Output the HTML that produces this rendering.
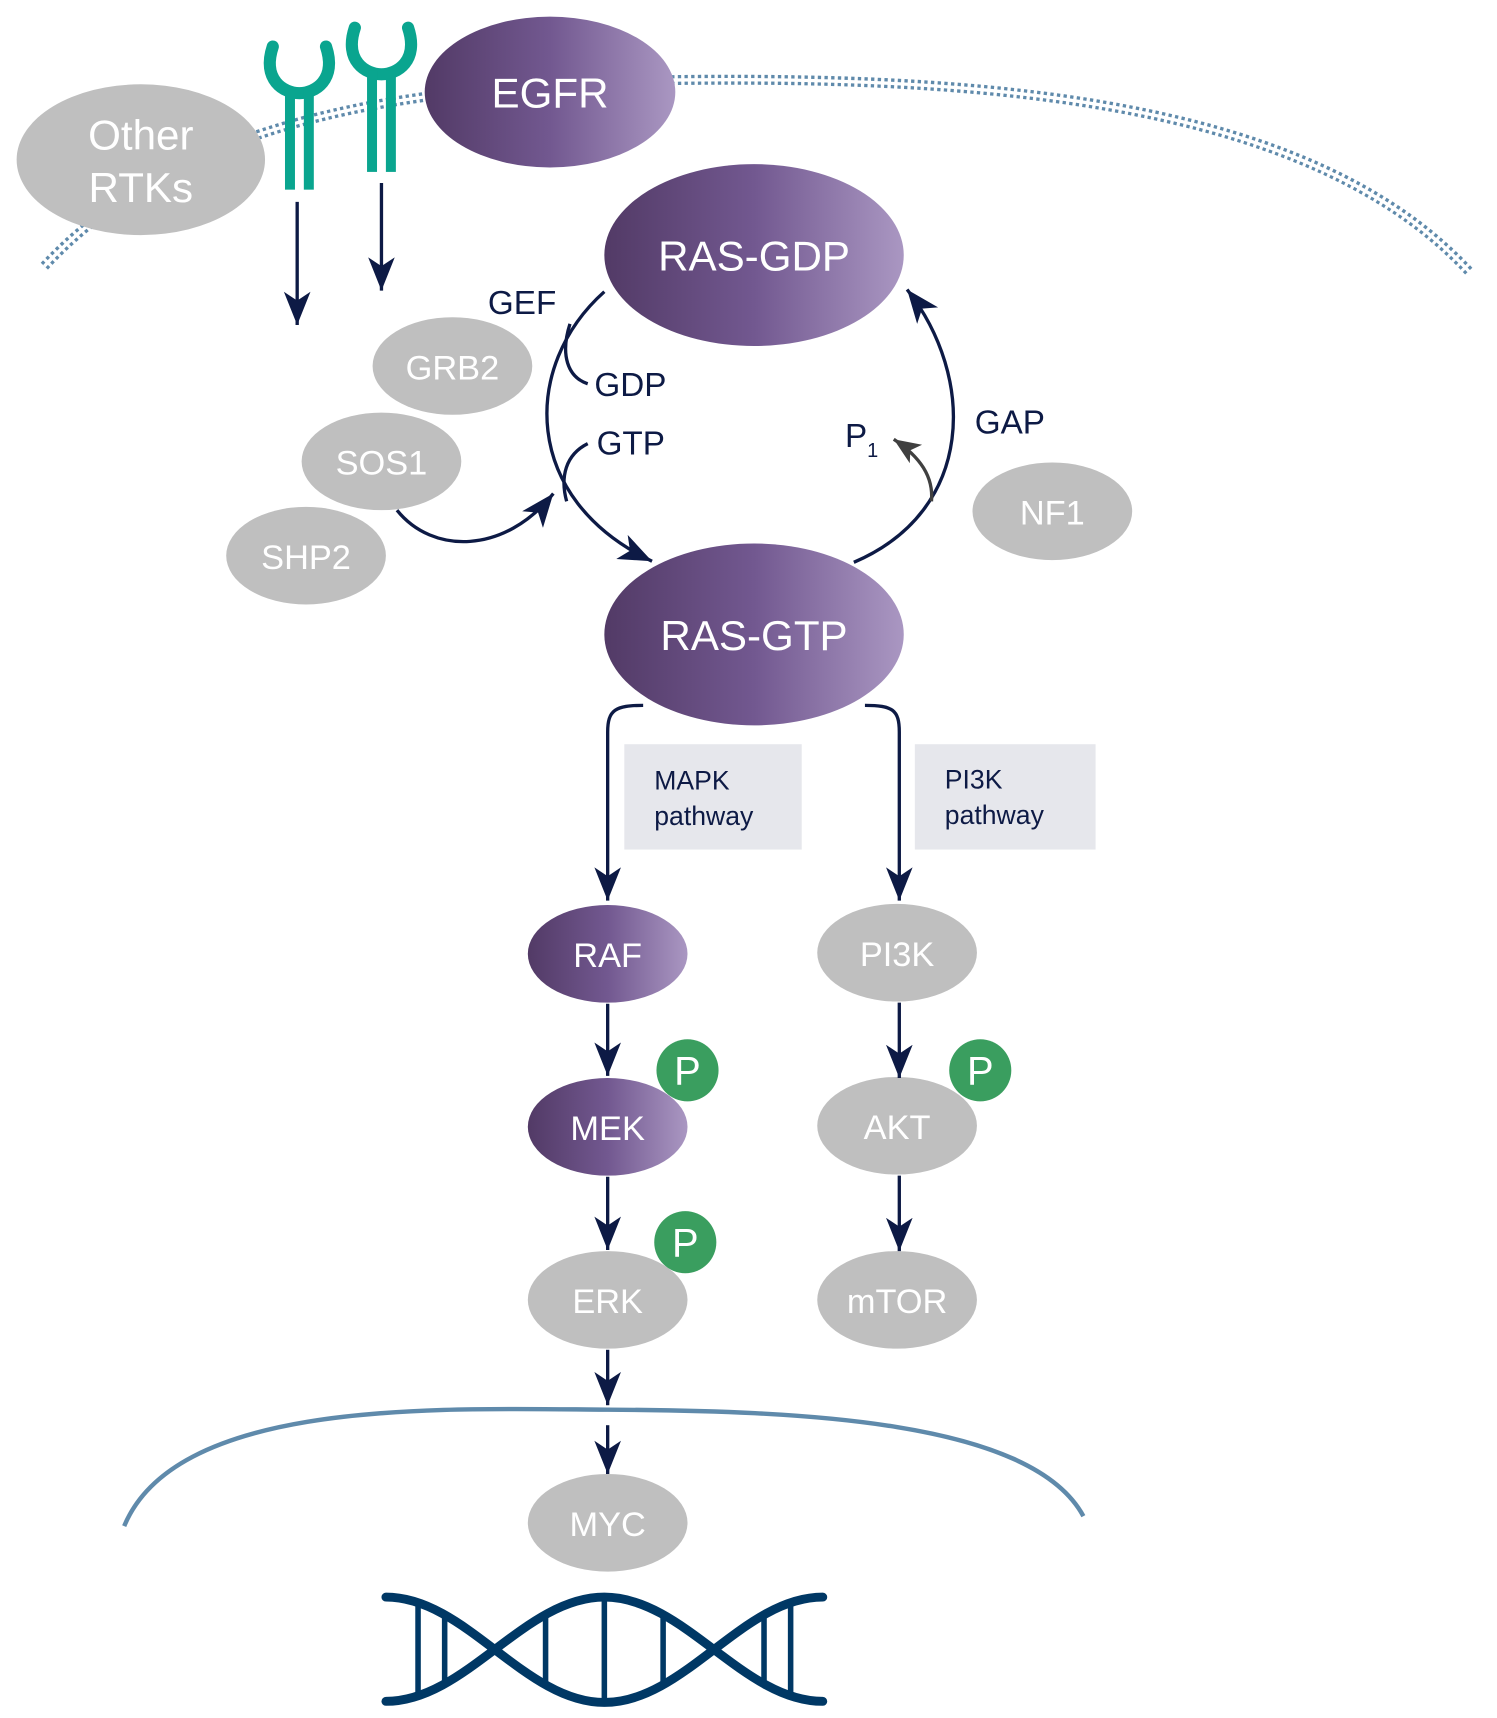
<!DOCTYPE html>
<html><head><meta charset="utf-8"><style>
html,body{margin:0;padding:0;background:#fff}
svg{display:block}
text{font-family:"Liberation Sans",sans-serif}
</style></head><body>
<svg width="1497" height="1718" viewBox="0 0 1350 1549" preserveAspectRatio="none" xmlns="http://www.w3.org/2000/svg">
<defs>
<linearGradient id="pg" x1="0" x2="1" y1="0" y2="0">
<stop offset="0" stop-color="#523a66"/><stop offset="0.5" stop-color="#725890"/><stop offset="1" stop-color="#aa97c2"/>
</linearGradient>
<marker id="ah" markerUnits="userSpaceOnUse" markerWidth="40" markerHeight="40" refX="30" refY="12" orient="auto">
<path d="M0,0 L30,12 L0,24 L8,12 z" fill="#0d1a45"/>
</marker>
<marker id="ahg" markerUnits="userSpaceOnUse" markerWidth="30" markerHeight="30" refX="24" refY="10" orient="auto">
<path d="M0,0 L24,10 L0,20 L6,10 z" fill="#404040"/>
</marker>
</defs>

<g fill="none">
<path d="M40,240 C180,90 420,70 690,72 C960,74 1200,110 1325,245" stroke="#5f8aab" stroke-width="9" stroke-dasharray="3 3"/>
<path d="M40,240 C180,90 420,70 690,72 C960,74 1200,110 1325,245" stroke="#fff" stroke-width="3"/>
</g>

<g fill="none" stroke="#0aa58f">
<path d="M246,42 C236,72 256,84 270,84 C284,84 304,72 294,42" stroke-width="11" stroke-linecap="round"/>
<path d="M320,25 C310,55 330,67 344,67 C358,67 378,55 368,25" stroke-width="11" stroke-linecap="round"/>
</g>
<g fill="#0aa58f">
<rect x="257" y="80" width="9" height="91"/><rect x="274" y="80" width="9" height="91"/>
<rect x="331" y="64" width="9" height="91"/><rect x="348" y="64" width="9" height="91"/>
</g>

<ellipse cx="127" cy="144" rx="112" ry="68" fill="#bfbfbf"/>
<ellipse cx="496" cy="83" rx="113" ry="68" fill="url(#pg)"/>
<ellipse cx="680" cy="230" rx="135" ry="82" fill="url(#pg)"/>
<ellipse cx="680" cy="572" rx="135" ry="82" fill="url(#pg)"/>
<ellipse cx="408" cy="330" rx="72" ry="44" fill="#bfbfbf"/>
<ellipse cx="344" cy="416" rx="72" ry="44" fill="#bfbfbf"/>
<ellipse cx="276" cy="501" rx="72" ry="44" fill="#bfbfbf"/>
<ellipse cx="949" cy="461" rx="72" ry="44" fill="#bfbfbf"/>
<ellipse cx="548" cy="860" rx="72" ry="44" fill="url(#pg)"/>
<ellipse cx="548" cy="1016" rx="72" ry="44" fill="url(#pg)"/>
<ellipse cx="548" cy="1172" rx="72" ry="44" fill="#bfbfbf"/>
<ellipse cx="809" cy="859" rx="72" ry="44" fill="#bfbfbf"/>
<ellipse cx="809" cy="1015" rx="72" ry="44" fill="#bfbfbf"/>
<ellipse cx="809" cy="1172" rx="72" ry="44" fill="#bfbfbf"/>
<ellipse cx="548" cy="1373" rx="72" ry="44" fill="#bfbfbf"/>

<g fill="#3a9e5f"><circle cx="620" cy="965" r="28"/><circle cx="884" cy="965" r="28"/><circle cx="618" cy="1120" r="28"/></g>

<g fill="#fff" text-anchor="middle">
<text x="127" y="135" font-size="38">Other</text>
<text x="127" y="182" font-size="38">RTKs</text>
<text x="496" y="97" font-size="38">EGFR</text>
<text x="680" y="244" font-size="38">RAS-GDP</text>
<text x="680" y="586" font-size="38">RAS-GTP</text>
<text x="408" y="342" font-size="31">GRB2</text>
<text x="344" y="428" font-size="31">SOS1</text>
<text x="276" y="513" font-size="31">SHP2</text>
<text x="949" y="473" font-size="31">NF1</text>
<text x="548" y="872" font-size="31">RAF</text>
<text x="548" y="1028" font-size="31">MEK</text>
<text x="548" y="1184" font-size="31">ERK</text>
<text x="809" y="871" font-size="31">PI3K</text>
<text x="809" y="1027" font-size="31">AKT</text>
<text x="809" y="1184" font-size="31">mTOR</text>
<text x="548" y="1385" font-size="31">MYC</text>
<text x="620" y="978" font-size="36">P</text>
<text x="884" y="978" font-size="36">P</text>
<text x="618" y="1133" font-size="36">P</text>
</g>

<g fill="none" stroke="#0d1a45" stroke-width="3">
<path d="M268,182 L268,293" marker-end="url(#ah)"/>
<path d="M344,165 L344,262" marker-end="url(#ah)"/>
<path d="M545,263 C470,330 470,450 588,506" marker-end="url(#ah)"/>
<path d="M514,292 C505,320 512,340 530,346"/>
<path d="M530,400 C510,410 505,430 511,452"/>
<path d="M358,460 C390,500 455,500 499,445" marker-end="url(#ah)"/>
<path d="M770,507 C880,460 880,340 818,261" marker-end="url(#ah)"/>
<path d="M580,636 C555,636 548,640 548,660 L548,812" marker-end="url(#ah)"/>
<path d="M780,636 C805,636 811,640 811,660 L811,812" marker-end="url(#ah)"/>
<path d="M548,905 L548,970" marker-end="url(#ah)"/>
<path d="M548,1061 L548,1127" marker-end="url(#ah)"/>
<path d="M548,1217 L548,1267" marker-end="url(#ah)"/>
<path d="M548,1285 L548,1329" marker-end="url(#ah)"/>
<path d="M811,904 L811,972" marker-end="url(#ah)"/>
<path d="M811,1060 L811,1128" marker-end="url(#ah)"/>
</g>
<path d="M840,452 C842,430 830,412 806,396" fill="none" stroke="#404040" stroke-width="3" marker-end="url(#ahg)"/>

<g fill="#0d1a45" font-size="30">
<text x="440" y="283">GEF</text>
<text x="536" y="357">GDP</text>
<text x="538" y="410">GTP</text>
<text x="879" y="391">GAP</text>
<text x="762" y="403">P<tspan font-size="18" dy="9">1</tspan></text>
</g>

<rect x="563" y="671" width="160" height="95" fill="#e6e7ec"/>
<rect x="825" y="671" width="163" height="95" fill="#e6e7ec"/>
<g fill="#0d1a45" font-size="24">
<text x="590" y="712">MAPK</text><text x="590" y="744">pathway</text>
<text x="852" y="711">PI3K</text><text x="852" y="743">pathway</text>
</g>

<path d="M112,1376 C160,1260 400,1270 548,1271 C720,1272 930,1280 977,1367" fill="none" stroke="#5f8aab" stroke-width="4"/>

<!-- DNA -->
<g fill="none" stroke="#003865" stroke-width="8" stroke-linecap="round">
<path d="M348,1440 C420,1440 473,1535 545,1535 C617,1535 670,1440 742,1440"/>
<path d="M348,1534 C420,1534 473,1440 545,1440 C617,1440 670,1534 742,1534"/>
</g>
<g stroke="#003865" stroke-width="5">
<line x1="377" y1="1443" x2="377" y2="1531"/>
<line x1="401" y1="1454" x2="401" y2="1520"/>
<line x1="492" y1="1454" x2="492" y2="1520"/>
<line x1="545" y1="1440" x2="545" y2="1535"/>
<line x1="598" y1="1454" x2="598" y2="1520"/>
<line x1="689" y1="1454" x2="689" y2="1520"/>
<line x1="713" y1="1443" x2="713" y2="1531"/>
</g>
</svg>
</body></html>
